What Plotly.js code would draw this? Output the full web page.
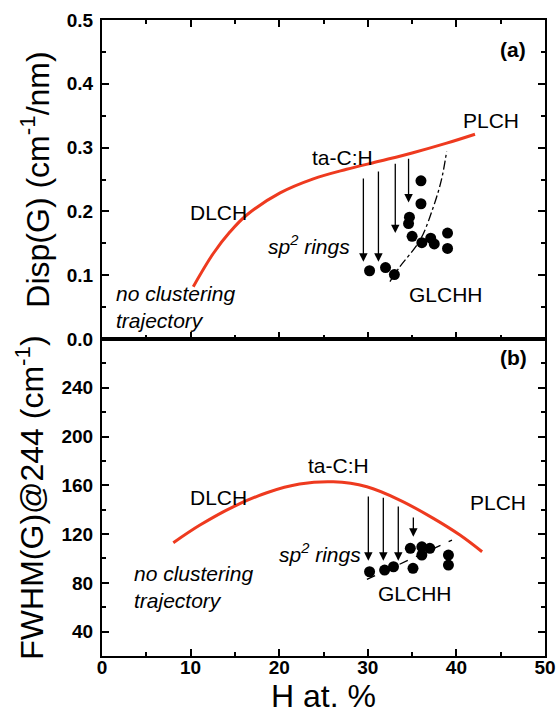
<!DOCTYPE html>
<html>
<head>
<meta charset="utf-8">
<script src="https://cdn.plot.ly/plotly-3.0.1.min.js"></script>
<style>html,body{margin:0;padding:0;background:#fff;}#chart{width:558px;height:724px;}</style>
</head>
<body>
<div id="chart"></div>
<script>
// ---------- Panel (a): Disp(G) ----------
const trajA_x = [10.3, 12.56, 14.45, 16.3, 20.1, 23.85, 27.6, 31.4, 35.1, 38.9, 42.1];
const trajA_y = [0.082, 0.134, 0.168, 0.194, 0.229, 0.251, 0.266, 0.279, 0.292, 0.307, 0.321];

const dataA_x = [30.2, 32.0, 33.0, 36.0, 36.0, 34.7, 34.6, 35.0, 36.1, 37.1, 37.5, 39.0, 39.0];
const dataA_y = [0.107, 0.112, 0.101, 0.248, 0.212, 0.191, 0.181, 0.161, 0.151, 0.158, 0.149, 0.166, 0.142];

const guideA_x = [32.5, 33.6, 35.9, 37.4, 38.3, 38.9];
const guideA_y = [0.090, 0.113, 0.155, 0.207, 0.249, 0.294];

const arrowA_x = [29.5, 31.2, 33.1, 34.6];
const arrowA_from = [0.254, 0.265, 0.277, 0.285];
const arrowA_to = [0.121, 0.121, 0.166, 0.214];

// ---------- Panel (b): FWHM(G) ----------
const trajB_x = [8.05, 11.06, 14.8, 18.6, 22.3, 26.1, 29.9, 33.6, 37.4, 40.4, 42.9];
const trajB_y = [112.9, 127.4, 142.4, 153.9, 161.0, 162.9, 158.8, 147.9, 132.9, 119.2, 105.5];

const dataB_x = [30.2, 31.9, 32.9, 34.8, 35.1, 36.1, 36.1, 37.0, 39.1, 39.1];
const dataB_y = [89.1, 90.5, 93.2, 108.3, 91.9, 109.6, 102.8, 108.3, 102.8, 94.6];

const guideB_x = [29.9, 39.5];
const guideB_y = [82.9, 115.1];

const arrowB_x = [30.06, 31.75, 33.44, 35.14];
const arrowB_from = [152.0, 151.1, 143.8, 134.8];
const arrowB_to = [98.1, 98.1, 98.1, 117.8];

// ---------- Tick labels ----------
const xTicks = [0, 10, 20, 30, 40, 50];
const yTicksA = [0.0, 0.1, 0.2, 0.3, 0.4, 0.5];
const yTicksB = [40, 80, 120, 160, 200, 240];

const RED = '#ee3a1f';
const FONT = 'Liberation Sans, Arial, sans-serif';

const traces = [
  {x: trajA_x, y: trajA_y, xaxis: 'x2', yaxis: 'y2', mode: 'lines',
   line: {color: RED, width: 3, shape: 'spline', smoothing: 1}},
  {x: guideA_x, y: guideA_y, xaxis: 'x2', yaxis: 'y2', mode: 'lines',
   line: {color: '#000', width: 1.3, dash: 'dashdot', shape: 'spline'}},
  {x: dataA_x, y: dataA_y, xaxis: 'x2', yaxis: 'y2', mode: 'markers',
   marker: {color: '#000', size: 11, symbol: 'circle'}},
  {x: trajB_x, y: trajB_y, xaxis: 'x', yaxis: 'y', mode: 'lines',
   line: {color: RED, width: 3, shape: 'spline'}},
  {x: guideB_x, y: guideB_y, xaxis: 'x', yaxis: 'y', mode: 'lines',
   line: {color: '#000', width: 1.3, dash: 'dash'}},
  {x: dataB_x, y: dataB_y, xaxis: 'x', yaxis: 'y', mode: 'markers',
   marker: {color: '#000', size: 11, symbol: 'circle'}}
];

const annotations = [];
function arrows(xs, from, to, xr, yr) {
  for (let i = 0; i < xs.length; i++) {
    annotations.push({x: xs[i], y: to[i], ax: xs[i], ay: from[i],
      xref: xr, yref: yr, axref: xr, ayref: yr, text: '', showarrow: true,
      arrowhead: 2, arrowsize: 1.3, arrowwidth: 1.3, arrowcolor: '#000', standoff: 0});
  }
}
arrows(arrowA_x, arrowA_from, arrowA_to, 'x2', 'y2');
arrows(arrowB_x, arrowB_from, arrowB_to, 'x', 'y');

function label(text, x, y, xr, yr, opts) {
  annotations.push(Object.assign({text: text, x: x, y: y, xref: xr, yref: yr,
    showarrow: false, font: {family: FONT, size: 21, color: '#000'}}, opts || {}));
}
// Panel (a) labels
label('<b>(a)</b>', 46.4, 0.453, 'x2', 'y2');
label('PLCH', 43.96, 0.343, 'x2', 'y2');
label('ta-C:H', 27.1, 0.285, 'x2', 'y2');
label('DLCH', 13.2, 0.199, 'x2', 'y2');
label('<i>sp<sup>2</sup> rings</i>', 23.4, 0.147, 'x2', 'y2');
label('<i>no clustering<br>trajectory</i>', 1.4, 0.050, 'x2', 'y2', {xanchor: 'left', align: 'left'});
label('GLCHH', 38.8, 0.069, 'x2', 'y2');
// Panel (b) labels
label('<b>(b)</b>', 46.4, 265, 'x', 'y');
label('ta-C:H', 26.7, 176.6, 'x', 'y');
label('DLCH', 13.1, 150.3, 'x', 'y');
label('PLCH', 44.7, 146.2, 'x', 'y');
label('<i>sp<sup>2</sup> rings</i>', 24.6, 104.4, 'x', 'y');
label('<i>no clustering<br>trajectory</i>', 3.4, 77, 'x', 'y', {xanchor: 'left', align: 'left'});
label('GLCHH', 35.3, 71.6, 'x', 'y');

const bold = v => '<b>' + v + '</b>';
const tickFont = {family: FONT, size: 19, color: '#000', weight: 'bold'};
const axBase = {showline: true, linecolor: '#000', linewidth: 2, ticks: 'inside',
  ticklen: 7, tickwidth: 2, tickcolor: '#000', showgrid: false, zeroline: false,
  tickfont: tickFont};
const titleFont = {family: FONT, size: 32, color: '#000'};

const layout = {
  width: 558, height: 724,
  margin: {l: 102, r: 13, t: 20, b: 68},
  paper_bgcolor: '#fff', plot_bgcolor: '#fff',
  showlegend: false,
  font: {family: FONT, color: '#000'},
  xaxis: Object.assign({}, axBase, {domain: [0, 1], anchor: 'y', range: [0, 50],
    tickvals: xTicks, ticktext: xTicks.map(v => bold(String(v))), mirror: true,
    ticklabelstandoff: -7,
    minor: {dtick: 5, ticklen: 4, tickwidth: 2, tickcolor: '#000', ticks: 'inside'},
    title: {text: 'H at. %', font: titleFont, standoff: 8}}),
  yaxis: Object.assign({}, axBase, {domain: [0, 0.4984], anchor: 'x', range: [20, 280],
    tickvals: yTicksB, ticktext: yTicksB.map(v => bold(String(v))), mirror: 'ticks',
    ticklabelstandoff: 3,
    minor: {tickvals: [20, 60, 100, 140, 180, 220, 260], ticklen: 4, tickwidth: 2, tickcolor: '#000', ticks: 'inside'},
    title: {text: 'FWHM(G)@244 (cm<sup>-1</sup>)', font: titleFont, standoff: 8}}),
  xaxis2: Object.assign({}, axBase, {domain: [0, 1], anchor: 'y2', range: [0, 50],
    tickvals: xTicks, showticklabels: false, mirror: 'ticks',
    minor: {dtick: 5, ticklen: 4, tickwidth: 2, tickcolor: '#000', ticks: 'inside'}}),
  yaxis2: Object.assign({}, axBase, {domain: [0.4984, 1], anchor: 'x2', range: [0, 0.5],
    tickvals: yTicksA, ticktext: yTicksA.map(v => bold(v.toFixed(1))), mirror: 'ticks',
    ticklabelstandoff: 3,
    minor: {dtick: 0.05, ticklen: 4, tickwidth: 2, tickcolor: '#000', ticks: 'inside'}, 
    title: {text: 'Disp(G) (cm<sup>-1</sup>/nm)', font: titleFont, standoff: 8}}),
  annotations: annotations
};

Plotly.newPlot('chart', traces, layout, {displayModeBar: false, staticPlot: true});
</script>
</body>
</html>
